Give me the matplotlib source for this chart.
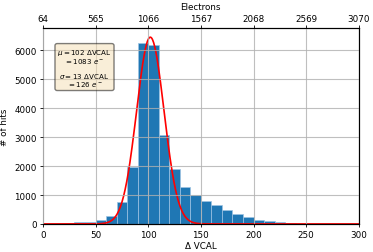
# ==========================================================
# DELTA VCAL HISTOGRAM WITH GAUSSIAN FIT
# ==========================================================

import numpy as np
import matplotlib
matplotlib.use("Agg")
import matplotlib.pyplot as plt

# ==========================================================
# DATA
# ==========================================================

bin_edges = list(range(0, 310, 10))

hit_counts = [
    0, 0, 8, 58, 81, 127, 277, 775, 1975, 6250,
    6180, 3080, 1908, 1275, 984, 810, 659, 497, 350, 231,
    150, 93, 58, 35, 10, 3, 0, 0, 0, 0,
]

x_ticks = [0, 50, 100, 150, 200, 250, 300]
electron_labels = ["64", "565", "1066", "1567", "2068", "2569", "3070"]

# fit parameters
fit_amplitude = 6460
fit_mu = 102
fit_sigma = 13

box_text = (
    r"$\mu = 102$ ΔVCAL" "\n"
    r"$= 1083\ e^-$" "\n\n"
    r"$\sigma = 13$ ΔVCAL" "\n"
    r"$= 126\ e^-$"
)

# ==========================================================
# PLOT
# ==========================================================

FS = 6.3

fig = plt.figure(figsize=(3.73, 2.53), dpi=100)
ax = fig.add_axes([0.115, 0.111, 0.847, 0.774])

ax.hist(
    bin_edges[:-1],
    bins=bin_edges,
    weights=hit_counts,
    color="#1f77b4",
    edgecolor="#9ec3e3",
    linewidth=0.5,
)

x_fit = np.linspace(0, 300, 600)
y_fit = fit_amplitude * np.exp(-0.5 * ((x_fit - fit_mu) / fit_sigma) ** 2)
ax.plot(x_fit, y_fit, color="red", linewidth=1.2)

ax.set_xlim(0, 300)
ax.set_xticks(x_ticks)
ax.set_ylim(0, 6775)
ax.set_yticks([0, 1000, 2000, 3000, 4000, 5000, 6000])

ax.set_axisbelow(False)
ax.grid(True, color="#b0b0b0", linewidth=0.8, alpha=0.8)
ax.spines["left"].set_color("#808080")

ax.tick_params(labelsize=FS, length=2.5, width=0.6, pad=2)
ax.set_xlabel("Δ VCAL", fontsize=FS, labelpad=1)
ax.set_ylabel("# of hits", fontsize=FS, labelpad=4)

ax.text(
    0.045, 0.905, box_text,
    transform=ax.transAxes,
    fontsize=FS - 1.2,
    va="top", ha="left",
    multialignment="center",
    linespacing=0.95,
    bbox=dict(boxstyle="round,pad=0.3", facecolor="wheat", alpha=0.5),
)

ax2 = ax.twiny()
ax2.set_xlim(0, 300)
ax2.set_xticks(x_ticks)
ax2.set_xticklabels(electron_labels)
ax2.tick_params(labelsize=FS, length=2.5, width=0.6, pad=1.5)
ax2.set_xlabel("Electrons", fontsize=FS, labelpad=3)
ax2.spines["left"].set_visible(False)

for a in (ax, ax2):
    for s in a.spines.values():
        s.set_linewidth(0.8)

fig.savefig("out.png", dpi=100)
